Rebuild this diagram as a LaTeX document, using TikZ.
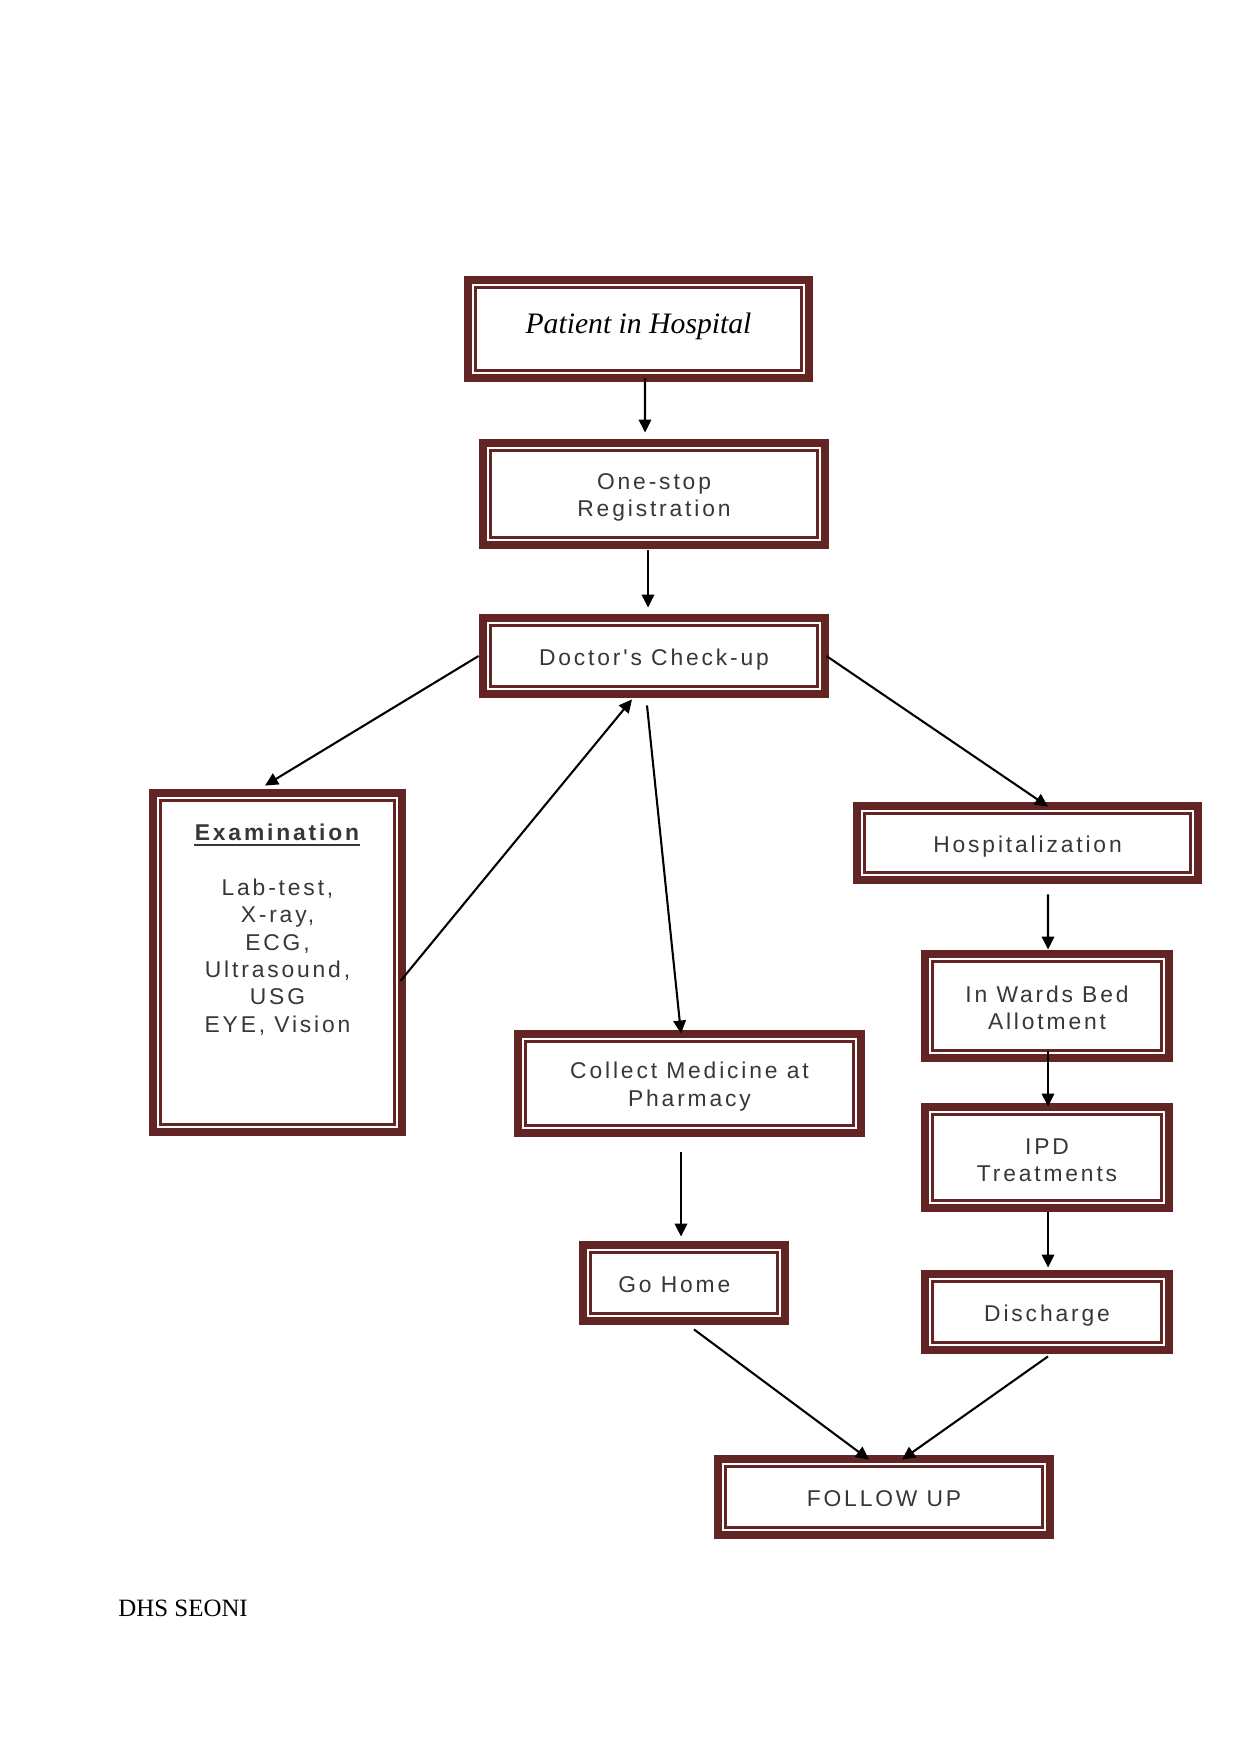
\documentclass[tikz,border=0pt]{standalone}
\usepackage{fontspec}
\setmainfont{Liberation Serif}
\newfontfamily\bxf{Liberation Sans}[LetterSpace=12.5]
\usetikzlibrary{calc,arrows.meta}
\definecolor{mar}{RGB}{99,37,35}
\definecolor{txt}{RGB}{55,55,55}
\begin{document}
\begin{tikzpicture}[x=0.4818pt,y=-0.4818pt,
  frm/.style 2 args={rectangle, inner sep=0pt, fill=mar,
    minimum width=#1*0.4818pt, minimum height=#2*0.4818pt,
    text=txt, font=\bxf\fontsize{11}{13.2}\selectfont,
    text height=11.3pt, text depth=2.3pt,
    path picture={
      \fill[white] ([shift={(3.7pt,3.7pt)}]path picture bounding box.south west) rectangle ([shift={(-3.7pt,-3.7pt)}]path picture bounding box.north east);
      \fill[mar] ([shift={(4.65pt,4.65pt)}]path picture bounding box.south west) rectangle ([shift={(-4.65pt,-4.65pt)}]path picture bounding box.north east);
      \fill[white] ([shift={(6.25pt,6.25pt)}]path picture bounding box.south west) rectangle ([shift={(-6.25pt,-6.25pt)}]path picture bounding box.north east);
    }},
  two/.style={align=center, text height=, text depth=},
  arr/.style={draw=black, line width=1pt, -{Triangle[length=6.3pt,width=6pt]}},
  lbl/.style={inner sep=0pt, text=txt, font=\bxf\fontsize{11}{13.2}\selectfont, align=center}
]
\useasboundingbox (0,0) rectangle (1240,1754);

\node[frm={349}{106}, text=black, font=\fontsize{14.3}{17}\selectfont\itshape, text height=9.8pt, text depth=5.9pt] (pat) at (638.5,329) {Patient in Hospital};
\node[frm={350}{110}, two] (reg) at (654,494) {\rule{0pt}{11.2pt}One-stop\\Registration};
\node[frm={350}{84}] (doc) at (654,656) {Doctor's Check-up};
\node[frm={257}{347}, text height=, text depth=] (exam) at (277.5,962.5) {};
\node[frm={349}{82}] (hosp) at (1027.5,843) {Hospitalization};
\node[frm={252}{112}, two] (ward) at (1047,1006) {\rule{0pt}{9.7pt}In Wards Bed\\Allotment};
\node[frm={252}{109}, two] (ipd) at (1047,1157.5) {\rule{0pt}{10.1pt}IPD\\Treatments};
\node[frm={252}{84}] (dis) at (1047,1312) {Discharge};
\node[frm={351}{107}, two] (col) at (689.5,1083.5) {\rule{0pt}{10.8pt}Collect Medicine at\\Pharmacy};
\node[frm={210}{84}] (home) at (684,1283) {Go Home\hspace*{9.4pt}};
\node[frm={340}{84}] (fol) at (884,1497) {FOLLOW UP};

\node[lbl, font=\bxf\bfseries\fontsize{11}{13.2}\selectfont, anchor=base] (exT) at (277,840) {Examination};
\draw[txt, line width=1pt] ([yshift=-2.2pt]exT.base west) -- ([yshift=-2.2pt]exT.base east);
\node[lbl] (exL) at (277.5,957) {Lab-test,\\X-ray,\\ECG,\\Ultrasound,\\USG\\EYE, Vision};

\node[inner sep=0pt, anchor=base west, font=\fontsize{12}{14}\selectfont] (dhs) at (118,1616) {DHS SEONI};

\draw[arr] ($(pat.south)+(6.5,-4)$) -- ($(reg.north)+(-9,-6)$);
\draw[arr] ($(reg.south)+(-6,1)$) -- ($(doc.north)+(-6,-6)$);
\draw[arr] (doc.west) -- ($(exam.north)+(-12.5,-3)$);
\draw[arr] ($(doc.east)+(-3,0)$) -- ($(hosp.north)+(20.5,5)$);
\draw[arr] ($(exam.east)+(-6,18.5)$) -- ($(doc.south)+(-22,1)$);
\draw[arr] ($(doc.south)+(-7,7)$) -- ($(col.north)+(-8.5,4)$);
\draw[arr] ($(hosp.south)+(20.5,10)$) -- ($(ward.north)+(1,0)$);
\draw[arr] ($(ward.south)+(1,-11)$) -- ($(ipd.north)+(1,4)$);
\draw[arr] ($(ipd.south)+(1,0)$) -- ($(dis.north)+(1,-2)$);
\draw[arr] ($(col.south)+(-8.5,15)$) -- ($(home.north)+(-3,-4)$);
\draw[arr] ($(home.south)+(10,4)$) -- ($(fol.north)+(-15,5)$);
\draw[arr] ($(dis.south)+(1,2)$) -- ($(fol.north)+(18,5)$);
\end{tikzpicture}
\end{document}
